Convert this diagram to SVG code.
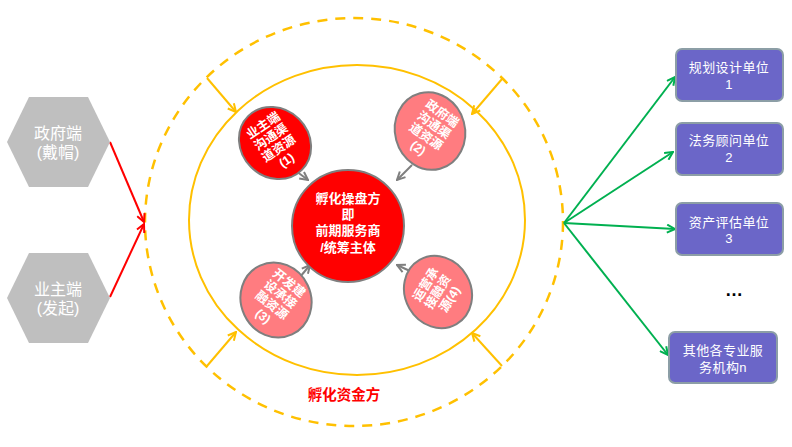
<svg xmlns="http://www.w3.org/2000/svg" width="792" height="447" viewBox="0 0 792 447">
<style>
text{font-family:"Liberation Sans","Noto Sans CJK SC",sans-serif;text-anchor:middle}
.hex{fill:#BFBFBF}
.hext{fill:#fff;font-size:16px}
.box{fill:#6B66C8;stroke:#8C9EA6;stroke-width:2}
.boxt{fill:#fff;font-size:13px;letter-spacing:0.4px}
.ell{stroke:#7F7F7F;stroke-width:2}
.et{fill:#fff;font-size:12.5px;font-weight:bold}
.gray{stroke:#7F7F7F;stroke-width:2;fill:none}
.yel{stroke:#FFC000;stroke-width:2;fill:none}
.red{stroke:#FF0000;stroke-width:2;fill:none}
.grn{stroke:#00B050;stroke-width:2;fill:none}
</style>
<defs>
<marker id="mg" viewBox="0 0 10 10" refX="9" refY="5" markerWidth="5" markerHeight="5" orient="auto"><path d="M1,1 L9,5 L1,9" fill="none" stroke="#7F7F7F" stroke-width="2"/></marker>
<marker id="my" viewBox="0 0 10 10" refX="9" refY="5" markerWidth="5" markerHeight="5" orient="auto"><path d="M1,1 L9,5 L1,9" fill="none" stroke="#FFC000" stroke-width="2"/></marker>
<marker id="mr" viewBox="0 0 10 10" refX="9" refY="5" markerWidth="5" markerHeight="5" orient="auto"><path d="M1,1 L9,5 L1,9" fill="none" stroke="#FF0000" stroke-width="2"/></marker>
<marker id="mgr" viewBox="0 0 10 10" refX="9" refY="5" markerWidth="5" markerHeight="5" orient="auto"><path d="M1,1 L9,5 L1,9" fill="none" stroke="#00B050" stroke-width="2"/></marker>
</defs>
<rect width="792" height="447" fill="#fff"/>

<g id="outer-circle">
<ellipse cx="354" cy="222" rx="209" ry="204" fill="none" stroke="#FFC000" stroke-width="2.5" stroke-dasharray="10,8"/>
</g>
<g id="inner-circle">
<ellipse cx="357" cy="220" rx="168" ry="155" fill="none" stroke="#FFC000" stroke-width="2"/>
</g>

<g id="connectors">
<line class="yel" x1="207" y1="78" x2="236" y2="112" marker-end="url(#my)"/>
<line class="yel" x1="502" y1="79" x2="472" y2="114" marker-end="url(#my)"/>
<line class="yel" x1="207" y1="366" x2="236" y2="332" marker-end="url(#my)"/>
<line class="yel" x1="502" y1="366" x2="472" y2="333" marker-end="url(#my)"/>
<line class="gray" x1="292" y1="168" x2="308" y2="180" marker-end="url(#mg)"/>
<line class="gray" x1="412" y1="165" x2="397" y2="180" marker-end="url(#mg)"/>
<line class="gray" x1="300" y1="277" x2="310" y2="265" marker-end="url(#mg)"/>
<line class="gray" x1="412" y1="272" x2="397" y2="265" marker-end="url(#mg)"/>
<line class="red" x1="110" y1="142" x2="144" y2="222" marker-end="url(#mr)"/>
<line class="red" x1="110" y1="297" x2="144" y2="224" marker-end="url(#mr)"/>
<line class="grn" x1="564" y1="223" x2="675" y2="77" marker-end="url(#mgr)"/>
<line class="grn" x1="564" y1="223" x2="673" y2="152" marker-end="url(#mgr)"/>
<line class="grn" x1="564" y1="223" x2="675" y2="229" marker-end="url(#mgr)"/>
<line class="grn" x1="564" y1="223" x2="668" y2="355" marker-end="url(#mgr)"/>
</g>

<g id="gov">
<polygon class="hex" points="7,142 29,97 88,97 110,142 88,187 29,187"/>
<text class="hext" x="58" y="139">政府端</text>
<text class="hext" x="58" y="158">(戴帽)</text>
</g>
<g id="owner">
<polygon class="hex" points="7,298 29,253 88,253 110,298 88,343 29,343"/>
<text class="hext" x="58" y="295">业主端</text>
<text class="hext" x="58" y="314">(发起)</text>
</g>

<g id="center">
<circle cx="348" cy="226" r="56" fill="#FF0000" stroke="#7F7F7F" stroke-width="2"/>
<text x="348" y="203" fill="#fff" font-size="13" font-weight="bold">孵化操盘方</text>
<text x="348" y="219" fill="#fff" font-size="13" font-weight="bold">即</text>
<text x="348" y="235" fill="#fff" font-size="13" font-weight="bold">前期服务商</text>
<text x="348" y="252" fill="#fff" font-size="13" font-weight="bold">/统筹主体</text>
</g>

<g id="res1" transform="translate(275,143)">
<ellipse class="ell" rx="34" ry="38" transform="rotate(-45)" fill="#FF0000"/>
<g transform="rotate(-34)">
<text class="et" y="-17">业主端</text>
<text class="et" y="-3">沟通渠</text>
<text class="et" y="11">道资源</text>
<text class="et" y="25">(1)</text>
</g>
</g>
<g id="res2" transform="translate(430,131)">
<ellipse class="ell" rx="35" ry="39" transform="rotate(-15)" fill="#FF7C80"/>
<g transform="rotate(35)">
<text class="et" y="-17">政府端</text>
<text class="et" y="-3">沟通渠</text>
<text class="et" y="11">道资源</text>
<text class="et" y="25">(2)</text>
</g>
</g>
<g id="res3" transform="translate(276,300)">
<ellipse class="ell" rx="35" ry="38" transform="rotate(-25)" fill="#FF7C80"/>
<g transform="rotate(38)">
<text class="et" y="-17">开发建</text>
<text class="et" y="-3">设承接</text>
<text class="et" y="11">融资源</text>
<text class="et" y="25">(3)</text>
</g>
</g>
<g id="res4" transform="translate(438,292)">
<ellipse class="ell" rx="33" ry="37" transform="rotate(-30)" fill="#FF7C80"/>
<g transform="rotate(-58)">
<text class="et" y="-10">运营承</text>
<text class="et" y="4">接融资</text>
<text class="et" y="18">源(4)</text>
</g>
</g>

<g id="fund">
<text x="344" y="400" fill="#FF0000" font-size="14.5" font-weight="bold">孵化资金方</text>
</g>

<g id="b1">
<rect class="box" x="676" y="49" width="107" height="52" rx="6"/>
<text class="boxt" x="729" y="72">规划设计单位</text>
<text class="boxt" x="729" y="89">1</text>
</g>
<g id="b2">
<rect class="box" x="676" y="123" width="107" height="52" rx="6"/>
<text class="boxt" x="729" y="145">法务顾问单位</text>
<text class="boxt" x="729" y="162">2</text>
</g>
<g id="b3">
<rect class="box" x="676" y="203" width="107" height="52" rx="6"/>
<text class="boxt" x="729" y="227">资产评估单位</text>
<text class="boxt" x="729" y="243">3</text>
</g>
<g id="dots">
<text x="734" y="296" font-size="18" font-weight="bold" fill="#000">…</text>
</g>
<g id="b4">
<rect class="box" x="669" y="332" width="108" height="51" rx="6"/>
<text class="boxt" x="723" y="355">其他各专业服</text>
<text class="boxt" x="723" y="372">务机构n</text>
</g>
</svg>
